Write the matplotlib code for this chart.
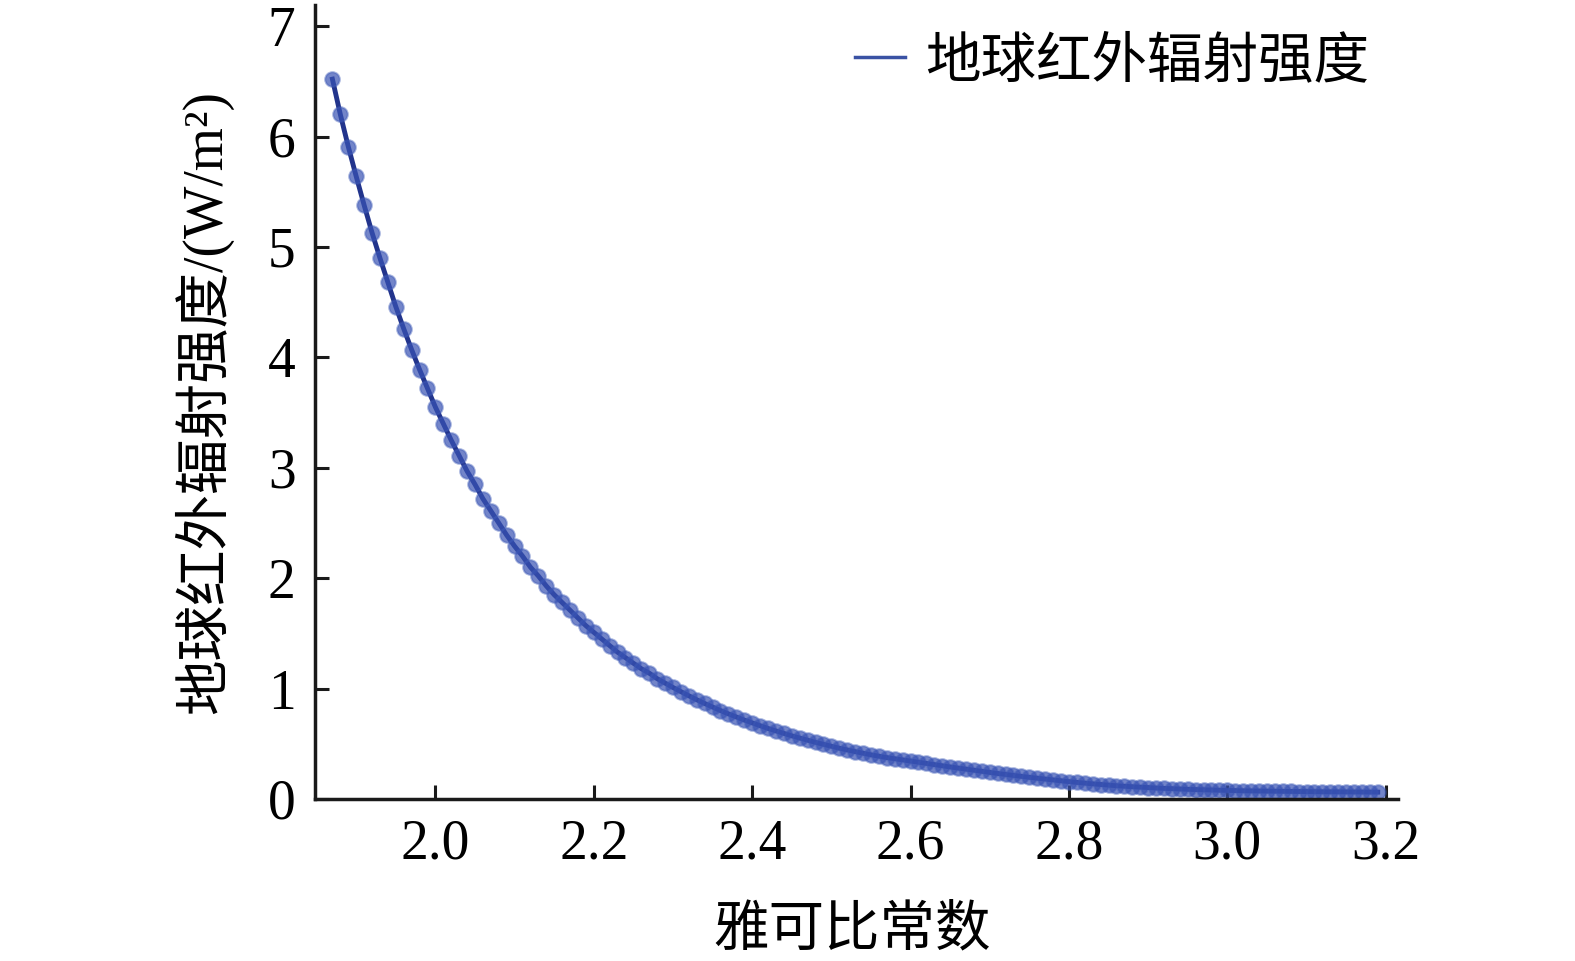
import matplotlib
matplotlib.use("Agg")
import matplotlib.pyplot as plt
from matplotlib.lines import Line2D

plt.rcParams['font.family'] = ['Liberation Serif', 'Noto Sans CJK SC']

# 雅可比常数 (x) vs 地球红外辐射强度 (y)
jacobi = [1.87, 1.88, 1.89, 1.90, 1.91, 1.92, 1.93, 1.94, 1.95, 1.96,
          1.97, 1.98, 1.99, 2.00, 2.01, 2.02, 2.03, 2.04, 2.05, 2.06,
          2.07, 2.08, 2.09, 2.10, 2.11, 2.12, 2.13, 2.14, 2.15, 2.16,
          2.17, 2.18, 2.19, 2.20, 2.21, 2.22, 2.23, 2.24, 2.25, 2.26,
          2.27, 2.28, 2.29, 2.30, 2.31, 2.32, 2.33, 2.34, 2.35, 2.36,
          2.37, 2.38, 2.39, 2.40, 2.41, 2.42, 2.43, 2.44, 2.45, 2.46,
          2.47, 2.48, 2.49, 2.50, 2.51, 2.52, 2.53, 2.54, 2.55, 2.56,
          2.57, 2.58, 2.59, 2.60, 2.61, 2.62, 2.63, 2.64, 2.65, 2.66,
          2.67, 2.68, 2.69, 2.70, 2.71, 2.72, 2.73, 2.74, 2.75, 2.76,
          2.77, 2.78, 2.79, 2.80, 2.81, 2.82, 2.83, 2.84, 2.85, 2.86,
          2.87, 2.88, 2.89, 2.90, 2.91, 2.92, 2.93, 2.94, 2.95, 2.96,
          2.97, 2.98, 2.99, 3.00, 3.01, 3.02, 3.03, 3.04, 3.05, 3.06,
          3.07, 3.08, 3.09, 3.10, 3.11, 3.12, 3.13, 3.14, 3.15, 3.16,
          3.17, 3.18, 3.19]
flux = [6.52, 6.20, 5.91, 5.64, 5.38, 5.13, 4.90, 4.68, 4.46, 4.26,
        4.07, 3.89, 3.72, 3.55, 3.40, 3.25, 3.11, 2.97, 2.85, 2.72,
        2.61, 2.50, 2.39, 2.29, 2.20, 2.10, 2.02, 1.93, 1.85, 1.78,
        1.71, 1.64, 1.57, 1.51, 1.45, 1.39, 1.33, 1.28, 1.23, 1.18,
        1.14, 1.09, 1.05, 1.01, 0.972, 0.935, 0.899, 0.865, 0.833, 0.801,
        0.771, 0.743, 0.715, 0.689, 0.664, 0.639, 0.616, 0.594, 0.572, 0.552,
        0.532, 0.513, 0.495, 0.477, 0.460, 0.444, 0.429, 0.414, 0.400, 0.387,
        0.375, 0.364, 0.354, 0.344, 0.333, 0.322, 0.311, 0.300, 0.290, 0.280,
        0.270, 0.260, 0.250, 0.240, 0.231, 0.222, 0.213, 0.204, 0.196, 0.188,
        0.180, 0.172, 0.164, 0.157, 0.150, 0.143, 0.137, 0.131, 0.125, 0.120,
        0.115, 0.111, 0.107, 0.103, 0.099, 0.096, 0.093, 0.090, 0.088, 0.085,
        0.083, 0.081, 0.079, 0.077, 0.076, 0.074, 0.073, 0.072, 0.071, 0.070,
        0.069, 0.068, 0.067, 0.066, 0.066, 0.065, 0.065, 0.064, 0.064, 0.063,
        0.063, 0.063, 0.062]

xticks = [2.0, 2.2, 2.4, 2.6, 2.8, 3.0, 3.2]
yticks = [0, 1, 2, 3, 4, 5, 6, 7]

fig = plt.figure(figsize=(15.75, 9.61), dpi=100)
ax = fig.add_axes([0.2, 0.1686, 0.6876, 0.826])

ax.plot(jacobi, flux, color='#22348c', lw=3.5, marker='o', ms=10.5,
        mfc=(0.22, 0.32, 0.70, 0.7), mec=(0.25, 0.36, 0.72, 0.45), mew=1.5)

ax.set_xlim(1.848, 3.2155)
ax.set_ylim(0, 7.19)
ax.set_xticks(xticks)
ax.set_xticklabels(['%.1f' % v for v in xticks])
ax.set_yticks(yticks)

for s in ['top', 'right']:
    ax.spines[s].set_visible(False)
for s in ['left', 'bottom']:
    ax.spines[s].set_linewidth(2.5)
    ax.spines[s].set_color('#1a1a1a')
ax.tick_params(direction='in', length=10, width=2.2, labelsize=40, pad=14,
               color='#1a1a1a')

ax.set_xlabel('雅可比常数', fontsize=40)
ax.xaxis.set_label_coords(0.496, -0.134)
ax.set_ylabel('地球红外辐射强度/(W/m²)', fontsize=40)
ax.yaxis.set_label_coords(-0.076, 0.5)

h = Line2D([], [], color='#3a52a4', lw=2.5)
ax.legend([h], ['地球红外辐射强度'], loc='upper right', bbox_to_anchor=(0.973, 0.96),
          frameon=False, fontsize=40, handlelength=0.9, handletextpad=0.35,
          borderpad=0, borderaxespad=0)

fig.savefig('out.png', dpi=100)
